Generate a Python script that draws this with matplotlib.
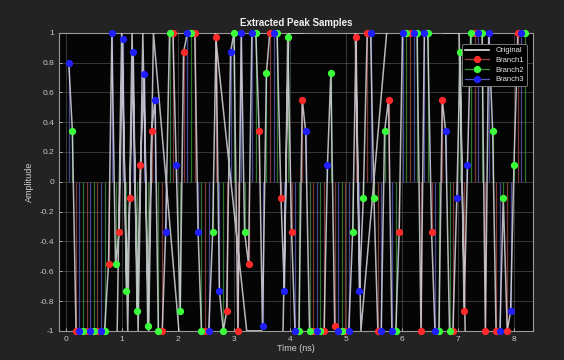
import numpy as np
import matplotlib
matplotlib.use("Agg")
import matplotlib.pyplot as plt
from matplotlib.lines import Line2D
from matplotlib.ticker import FuncFormatter

# sample times (ns) and amplitudes, one list per branch
t_branch1 = [0.18, 0.37, 0.56, 0.76, 0.95, 1.14, 1.33, 1.53, 1.72, 1.91, 2.10, 2.30, 2.49, 2.68, 2.87,
             3.07, 3.26, 3.45, 3.64, 3.84, 4.03, 4.22, 4.41, 4.61, 4.80, 4.99, 5.18, 5.38, 5.57, 5.76,
             5.95, 6.15, 6.34, 6.53, 6.72, 6.91, 7.11, 7.30, 7.49, 7.68, 7.88, 8.07]
y_branch1 = [-1, -1, -1, -0.55, -0.34, -0.11, 0.11, 0.34, -1, 1, 0.87, 1, -1, 0.97, -0.87,
             -1, -0.55, 0.34, 1, -0.11, -0.34, 0.55, -1, -1, -0.97, -1, 0.97, 1, -1, 0.55,
             -0.34, 1, -1, -0.34, 0.55, -1, -0.87, 1, -1, -1, -1, 1]

t_branch2 = [0.115, 0.31, 0.50, 0.69, 0.885, 1.08, 1.27, 1.46, 1.65, 1.85, 2.04, 2.23, 2.42, 2.62, 2.81,
             3.00, 3.19, 3.39, 3.58, 3.77, 3.96, 4.16, 4.35, 4.54, 4.73, 4.93, 5.12, 5.31, 5.50, 5.69,
             5.89, 6.08, 6.27, 6.46, 6.66, 6.85, 7.04, 7.23, 7.43, 7.62, 7.81, 8.00, 8.20]
y_branch2 = [0.34, -1, -1, -1, -0.55, -0.73, -0.87, -0.97, -1, 1, -0.87, 1, -1, -0.34, -1,
             1, -0.34, 1, 0.73, 1, 0.97, -1, -1, -1, 0.73, -1, -0.34, -0.11, -0.11, 0.34,
             -1, 1, 1, 1, -1, -1, 0.87, 1, 1, 0.34, -0.11, 0.11, 1]

t_branch3 = [0.05, 0.24, 0.43, 0.63, 0.82, 1.01, 1.20, 1.40, 1.59, 1.78, 1.97, 2.17, 2.36, 2.55, 2.74,
             2.94, 3.13, 3.32, 3.51, 3.71, 3.90, 4.09, 4.28, 4.48, 4.67, 4.86, 5.05, 5.24, 5.44, 5.63,
             5.82, 6.01, 6.21, 6.40, 6.59, 6.78, 6.98, 7.17, 7.36, 7.55, 7.75, 7.94, 8.13]
y_branch3 = [0.80, -1, -1, -1, 1, 0.96, 0.87, 0.72, 0.55, -0.34, 0.11, 1, -0.34, -1, -0.73,
             0.87, 1, 1, -0.97, 1, -0.73, -1, 0.34, -1, 0.11, -1, -1, -0.73, 1, -1,
             -1, 1, 1, 1, -1, 0.34, -0.11, 0.11, 1, 1, -1, -0.87, 1]

branch_names = ["Branch1", "Branch2", "Branch3"]
branch_colors = ["#ff2a2a", "#3cff3c", "#2020ff"]
stem_colors = ["#a04444", "#3c903c", "#5a5ab8"]

x_ticks = [0, 1, 2, 3, 4, 5, 6, 7, 8]
y_ticks = [-1, -0.8, -0.6, -0.4, -0.2, 0, 0.2, 0.4, 0.6, 0.8, 1]


def original_trace(ts, ys):
    # the original runs through every sample and swings to +-1 between turning points
    order = np.argsort(ts)
    t = np.asarray(ts)[order]
    y = np.asarray(ys)[order]
    pts = list(zip(t, y))
    for i in range(1, len(t) - 1):
        v = y[i]
        if v >= y[i - 1] and v >= y[i + 1] and v < 1:
            j = i - 1 if y[i - 1] > y[i + 1] else i + 1
            f = (1 + y[j]) / ((1 + v) + (1 + y[j]))
            pts.append((t[i] + f * (t[j] - t[i]), 1.0))
        elif v <= y[i - 1] and v <= y[i + 1] and v > -1:
            j = i - 1 if y[i - 1] < y[i + 1] else i + 1
            f = (1 - y[j]) / ((1 - v) + (1 - y[j]))
            pts.append((t[i] + f * (t[j] - t[i]), -1.0))
    pts.sort()
    return [p[0] for p in pts], [p[1] for p in pts]


t_orig, y_orig = original_trace(t_branch1 + t_branch2 + t_branch3,
                                y_branch1 + y_branch2 + y_branch3)

plt.rcParams['font.family'] = ['Liberation Sans', 'DejaVu Sans']
plt.rcParams['axes.unicode_minus'] = False

fig = plt.figure(figsize=(5.64, 3.60), dpi=100, facecolor="#232323")
ax = fig.add_axes([0.105, 0.081, 0.840, 0.828], facecolor="#050505")

ax.plot(t_orig, y_orig, color="#e4e4ec", lw=1.1, alpha=0.8, zorder=3)

data = [(t_branch1, y_branch1), (t_branch2, y_branch2), (t_branch3, y_branch3)]
for (t, y), c, sc in zip(data, branch_colors, stem_colors):
    ax.vlines(t, 0, y, colors=sc, lw=0.9, alpha=0.8, zorder=2)
    ax.plot(t, y, 'o', color=c, ms=4.2, mec=c, zorder=4, clip_on=False)

ax.set_xlim(-0.12, 8.34)
ax.set_ylim(-1, 1)
ax.set_xticks(x_ticks)
ax.set_yticks(y_ticks)
ax.yaxis.set_major_formatter(FuncFormatter(lambda v, p: "%g" % round(v, 2)))
ax.grid(True, color="#5a5a5a", lw=0.6, alpha=0.7)
ax.set_axisbelow(True)

for s in ax.spines.values():
    s.set_color("#9a9a9a")
    s.set_linewidth(0.8)
ax.tick_params(colors="#c8c8c8", labelsize=6, length=2, width=0.6, direction="in")

ax.set_title("Extracted Peak Samples", color="#f0f0f0", fontsize=7, fontweight="bold", pad=5)
ax.set_xlabel("Time (ns)", color="#d0d0d0", fontsize=6.5, labelpad=1)
ax.set_ylabel("Amplitude", color="#d0d0d0", fontsize=6.5, labelpad=4)

handles = [Line2D([0], [0], color="#e4e4ec", lw=1.2, label="Original")]
for name, c, sc in zip(branch_names, branch_colors, stem_colors):
    handles.append(Line2D([0], [0], color=sc, lw=0.9, marker='o', ms=4.2,
                          mfc=c, mec=c, label=name))
leg = ax.legend(handles=handles, loc="upper right", fontsize=5.5, frameon=True,
                facecolor="#000000", edgecolor="#8a8a8a", framealpha=1,
                handlelength=3.2, borderpad=0.4, labelspacing=0.3,
                bbox_to_anchor=(0.995, 0.975))
for txt in leg.get_texts():
    txt.set_color("#e8e8e8")
leg.get_frame().set_linewidth(0.6)
leg.set_zorder(6)

fig.savefig("out.png", dpi=100, facecolor=fig.get_facecolor())
